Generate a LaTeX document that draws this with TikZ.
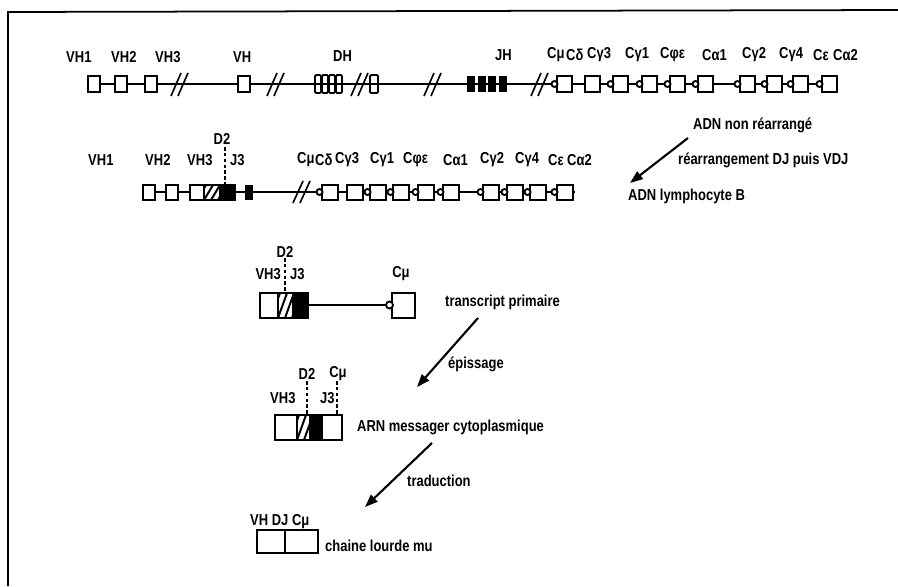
\documentclass[tikz,border=0pt]{standalone}
\usepackage{fontspec}
\setmainfont{Liberation Sans}[FakeStretch=0.82]
\usetikzlibrary{arrows.meta}
\tikzset{
  gline/.style={line width=1.6pt},
  bbone/.style={line width=1.4pt},
  lab/.style={inner sep=0pt, font=\bfseries\fontsize{13.5}{15}\selectfont, anchor=west},
  labc/.style={lab, anchor=center},
  labe/.style={lab, anchor=east},
  bigarrow/.style={line width=1.8pt, -{Triangle[length=11pt,width=8pt]}},
  cutmark/.style={line width=1.4pt},
  dmark/.style={line width=1.6pt, dash pattern=on 3pt off 2pt},
  frameline/.style={line width=1.5pt},
}
% hatched box: x1,y1 (top), x2,y2 (bottom)
\newcommand\myhatchbox[4]{%
  \fill[white] (#1,#2) rectangle (#3,#4);
  \begin{scope}
    \clip (#1,#2) rectangle (#3,#4);
    \foreach \k in {-3,...,3}{%
      \draw[line width=1.7pt] ({#1+\k*7},#4) -- ({#1+\k*7+9},#2);
    }
  \end{scope}
  \draw[gline] (#1,#2) rectangle (#3,#4);
}
\begin{document}
\begin{tikzpicture}[x=0.03cm,y=-0.03cm]
\useasboundingbox (0,0) rectangle (898,586);
\fill[white] (0,0) rectangle (898,586);
% frame
\draw[frameline] (8,586) -- (8,12) -- (898,10);

% ---------------- Row 1 : ADN non rearrange ----------------
\draw[bbone] (88,84) -- (837,84);
\foreach \xl in {88,115,145,238}{\draw[gline,fill=white] (\xl,76) rectangle ++(12,16);}
% DH units
\foreach \xl in {315,322,329,336}{%
  \draw[gline,fill=white,rounded corners=1pt] (\xl,75) rectangle ++(6,18);
  \draw[gline] (\xl,84) -- ++(6,0);}
\draw[gline,fill=white,rounded corners=1pt] (370,75) rectangle ++(8,18);
\draw[gline] (370,84) -- ++(8,0);
% JH
\foreach \xl in {467,477.5,488,498.5}{\fill (\xl,76) rectangle ++(8,16);}
% C genes
\foreach \xl/\c in {557/1,585/0,613/1,642/1,670/1,698/1,740/1,767/1,793/1,822/1}{%
  \draw[gline,fill=white] (\xl,76) rectangle ++(15,16);
  \ifnum\c=1 \draw[gline,fill=white] ({\xl-2.5},84) circle[radius=3];\fi}
% cut marks
\foreach \c in {180,276,360,433,540}{%
  \draw[cutmark] ({\c-9},96) -- ({\c+1},73);
  \draw[cutmark] ({\c-2},96) -- ({\c+8},73);}
% labels
\node[lab] (l1vh1) at (66,57) {VH1};
\node[lab] (l1vh2) at (111,57) {VH2};
\node[lab] (l1vh3) at (155,57) {VH3};
\node[lab] (l1vh) at (233,57) {VH};
\node[lab] (l1dh) at (333,56) {DH};
\node[lab] (l1jh) at (495,55) {JH};
\node[lab] (l1c1) at (547,55) {Cμ};
\node[lab] (l1c2) at (566,55) {Cδ};
\node[lab] (l1c3) at (587,55) {Cγ3};
\node[lab] (l1c4) at (625,55) {Cγ1};
\node[lab] (l1c5) at (660,55) {Cφε};
\node[lab] (l1c6) at (702,55) {Cα1};
\node[lab] (l1c7) at (742,55) {Cγ2};
\node[lab] (l1c8) at (779,55) {Cγ4};
\node[lab] (l1c9) at (813,55) {Cε};
\node[lab] (l1c10) at (833,55) {Cα2};

% ---------------- Row 2 : ADN lymphocyte B ----------------
\draw[bbone] (143,192) -- (575,192);
\foreach \xl in {143,166}{\draw[gline,fill=white] (\xl,185) rectangle ++(12,15);}
\draw[gline,fill=white] (190,185) rectangle (204,200);
\myhatchbox{204}{185}{220}{200}
\fill (220,185) rectangle (235,200);
\draw[gline] (204,185) rectangle (235,200);
\fill (245,185) rectangle (253,200);
\foreach \xl/\c in {322/1,347/0,370/1,393/1,418/1,443/1,483/1,507/1,530/1,557/1}{%
  \draw[gline,fill=white] (\xl,185) rectangle ++(16,15);
  \ifnum\c=1 \draw[gline,fill=white] ({\xl-2.5},192) circle[radius=3];\fi}
\draw[cutmark] (293,203) -- (303,181);
\draw[cutmark] (300,203) -- (310,181);
\draw[dmark] (225,147) -- (225,185);
\node[labc] (l2d2) at (222,139) {D2};
\node[lab] (l2vh1) at (88,160) {VH1};
\node[lab] (l2vh2) at (145,160) {VH2};
\node[lab] (l2vh3) at (187,160) {VH3};
\node[lab] (l2j3) at (230,160) {J3};
\node[lab] (l2c1) at (297,160) {Cμ};
\node[lab] (l2c2) at (315,160) {Cδ};
\node[lab] (l2c3) at (335,160) {Cγ3};
\node[lab] (l2c4) at (370,160) {Cγ1};
\node[lab] (l2c5) at (403,160) {Cφε};
\node[lab] (l2c6) at (443,160) {Cα1};
\node[lab] (l2c7) at (480,160) {Cγ2};
\node[lab] (l2c8) at (515,160) {Cγ4};
\node[lab] (l2c9) at (548,160) {Cε};
\node[lab] (l2c10) at (567,160) {Cα2};

% annotations + arrow 1
\node[lab] (t1) at (693,125) {ADN non réarrangé};
\node[lab] (t2) at (678,160) {réarrangement DJ puis VDJ};
\node[lab] (t3) at (628,196) {ADN lymphocyte B};
\coordinate (a1s) at (688,138);
\coordinate (a1e) at (630,183);
\draw[bigarrow] (a1s) -- (a1e);

% ---------------- Row 3 : transcript primaire ----------------
\draw[bbone] (308,305) -- (390,305);
\draw[gline,fill=white] (260,293) rectangle (278,318);
\myhatchbox{278}{293}{293}{318}
\fill (293,293) rectangle (308,318);
\draw[gline] (260,293) rectangle (308,318);
\draw[gline,fill=white] (392,293) rectangle (415,318);
\draw[gline,fill=white] (389.5,305) circle[radius=3.5];
\draw[dmark] (285,258) -- (285,293);
\node[labc] (l3d2) at (285,252) {D2};
\node[labe] (l3vh3) at (281,274) {VH3};
\node[lab] (l3j3) at (290,274) {J3};
\node[labc] (l3cm) at (401,274) {Cμ};
\node[lab] (t4) at (445,302) {transcript primaire};
\node[lab] (t5) at (448,364) {épissage};
\coordinate (a2s) at (478,318);
\coordinate (a2e) at (417,387);
\draw[bigarrow] (a2s) -- (a2e);

% ---------------- Row 4 : ARN messager ----------------
\draw[gline,fill=white] (275,415) rectangle (297,440);
\myhatchbox{297}{415}{310}{440}
\fill (310,415) rectangle (322,440);
\draw[gline,fill=white] (322,415) rectangle (342,440);
\draw[gline] (275,415) rectangle (342,440);
\draw[dmark] (307,381) -- (307,415);
\draw[dmark] (337,381) -- (337,415);
\node[labc] (l4d2) at (307,374) {D2};
\node[labc] (l4cm) at (338,374) {Cμ};
\node[lab] (l4vh3) at (270,398) {VH3};
\node[lab] (l4j3) at (320,398) {J3};
\node[lab] (t6) at (357,427) {ARN messager cytoplasmique};
\node[lab] (t7) at (407,481) {traduction};
\coordinate (a3s) at (432,443);
\coordinate (a3e) at (365,507);
\draw[bigarrow] (a3s) -- (a3e);

% ---------------- Row 5 : chaine lourde ----------------
\draw[gline] (257,530) rectangle (318,553);
\draw[gline] (285,530) -- (285,553);
\node[lab] (l5) at (250,522) {VH DJ Cμ};
\node[lab] (t8) at (325,546) {chaine lourde mu};
\end{tikzpicture}
\end{document}
